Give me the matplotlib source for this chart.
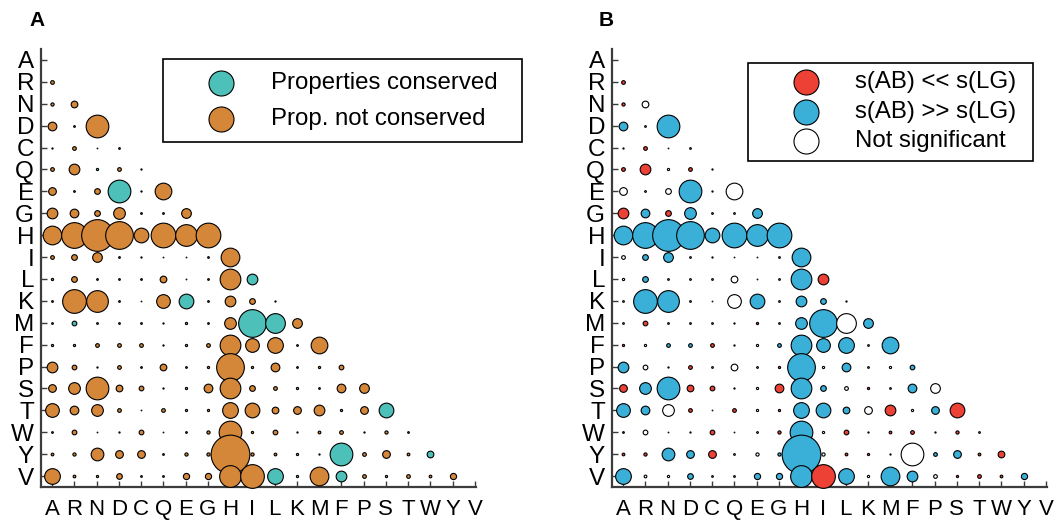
import matplotlib
matplotlib.use("Agg")
import matplotlib.pyplot as plt
from matplotlib.patches import Rectangle

plt.rcParams['font.family'] = ['Liberation Sans', 'DejaVu Sans']

amino = ["A", "R", "N", "D", "C", "Q", "E", "G", "H", "I",
         "L", "K", "M", "F", "P", "S", "T", "W", "Y", "V"]

# bubble sizes (approx. diameter), lower triangle, rows R..V
sizes = [
    [4],
    [3.5, 7],
    [9, 2, 23],
    [1.5, 4, 1, 2],
    [4, 11, 2.5, 4, 1.5],
    [8, 2, 6, 23, 1.5, 17],
    [11, 9, 6, 12, 2, 2, 10],
    [19, 26, 32, 28, 15, 25, 22, 25],
    [4, 6, 10, 2, 1.5, 1, 1, 2, 19],
    [2.5, 6, 2, 2, 2, 7, 1, 2, 21, 11],
    [2, 24, 22, 2, 1, 14, 15, 2, 11, 6, 1.5],
    [2, 5, 2, 2, 2, 1.5, 2.5, 2, 12, 28, 20, 10],
    [2.5, 2.5, 4, 4, 4, 1.5, 2.5, 4, 21, 14, 16, 2, 17],
    [11, 5, 1.5, 4, 2, 7, 2, 2.5, 28, 2.5, 9, 2, 2.5, 5],
    [8, 12, 23, 7, 5, 1.5, 2.5, 9, 21, 6, 4, 2.5, 2, 9, 10],
    [14, 9, 12, 4, 1, 4, 2.5, 2.5, 16, 15, 7, 8, 11, 2.5, 8, 15],
    [2, 5, 1, 1.5, 5, 1, 2, 3.5, 23, 2.5, 5, 1.5, 3, 4, 1.5, 3.5, 2],
    [3, 3.5, 13, 8, 8, 2, 3.5, 3.5, 39, 3.5, 3, 2.5, 1.5, 23, 4, 8, 3, 7],
    [16, 3, 2.5, 6, 2, 2, 6.5, 6.5, 22, 24, 16, 2.5, 19, 11, 4, 2.5, 4, 3, 6.5],
]

# panel A: t = properties conserved, o = not conserved
conserved = [
    "o", "oo", "ooo", "oooo", "ootoo", "oootoo", "ooooooo", "oooooooo",
    "ooooooooo", "ooooooooot", "ooooootoooo", "otoooooootto",
    "ooooooooooooo", "oooooooooooooo", "ooooooooooooooo",
    "ooooooooooooooot", "ooooooooooooootooo", "oooooooooooootooot",
    "oooooooooottotoooooo",
]

# panel B: r = s(AB) << s(LG), b = s(AB) >> s(LG), w = not significant
signif = [
    "r", "rw", "bwb", "wrww", "rrwrw", "wwwbww", "rbrbwwb", "bbbbbbbb",
    "wbbwwwwwb", "wbwwwwwwbr", "wbbwwwbwbbw", "wrwwwwrwbbwb",
    "rwbbrwwbbbbwb", "bwwrwwwrbwbwwb", "rbbrrwwrbbwrwbw",
    "bbwrwrwrbbbwrwbr", "rwwwrwwrbwrwrrwrw", "rrbbrwwbbwrrwwbbrr",
    "bwwbwwbbbrbwbbwrrrb",
]

col_A = {"t": "#4dc0b9", "o": "#d48639"}
col_B = {"r": "#ee4136", "b": "#3aafd8", "w": "#ffffff"}

W, H = 1055, 521
fig = plt.figure(figsize=(W / 100, H / 100), dpi=100)

axes_left = [41, 612]
ax_w, ax_top, ax_bot = 435, 49, 487


def draw_panel(ax, codes, cmap):
    for i, row in enumerate(sizes):
        r = i + 1
        for j, d in enumerate(row):
            code = codes[i][j]
            dpath = max(d - 0.3, 0.5)
            s = (dpath * 0.72) ** 2
            ax.scatter([j], [r], s=s, c=cmap[code], edgecolors="black",
                       linewidths=0.8, clip_on=False, zorder=3 + i * 0.01)
    ax.set_xlim(-0.5, 19.05)
    ax.set_ylim(19.5, -0.5)
    ax.set_xticks(range(len(amino)))
    ax.set_xticklabels(amino)
    ax.set_yticks(range(len(amino)))
    ax.set_yticklabels(amino)
    for sp in ["top", "right"]:
        ax.spines[sp].set_visible(False)
    for sp in ["left", "bottom"]:
        ax.spines[sp].set_color("#3c3c3c")
        ax.spines[sp].set_linewidth(1.6)
    ax.tick_params(direction="in", length=4, width=1, color="#3c3c3c",
                   labelcolor="black")
    ax.tick_params(axis="x", pad=8.5, labelsize=16)
    ax.tick_params(axis="y", pad=5, labelsize=17.5)


axA = fig.add_axes([axes_left[0] / W, (H - ax_bot) / H, ax_w / W, (ax_bot - ax_top) / H])
axB = fig.add_axes([axes_left[1] / W, (H - ax_bot) / H, ax_w / W, (ax_bot - ax_top) / H])
draw_panel(axA, conserved, col_A)
draw_panel(axB, signif, col_B)

# overlay for legends and panel letters, in pixel coordinates
ov = fig.add_axes([0, 0, 1, 1], zorder=10)
ov.set_xlim(0, W)
ov.set_ylim(H, 0)
ov.axis("off")
ov.patch.set_alpha(0)

ov.text(29, 20, "A", fontsize=15, fontweight="bold", va="center", ha="left")
ov.text(599, 20, "B", fontsize=15, fontweight="bold", va="center", ha="left")

# legend A
ov.add_patch(Rectangle((163, 59), 359, 83, facecolor="white", edgecolor="black", lw=1.2))
legA = [("Properties conserved", col_A["t"], 83), ("Prop. not conserved", col_A["o"], 119)]
for lab, c, y in legA:
    ov.scatter([221], [y], s=(25 * 0.72) ** 2, c=c, edgecolors="black", linewidths=0.8)
    ov.text(271, y, lab, fontsize=17.3, va="center", ha="left")

# legend B
ov.add_patch(Rectangle((748, 63), 285, 98, facecolor="white", edgecolor="black", lw=1.2))
legB = [("s(AB) << s(LG)", col_B["r"], 82), ("s(AB) >> s(LG)", col_B["b"], 112),
        ("Not significant", col_B["w"], 141)]
for lab, c, y in legB:
    ov.scatter([806], [y], s=(25 * 0.72) ** 2, c=c, edgecolors="black", linewidths=0.8)
    ov.text(855, y, lab, fontsize=17.3, va="center", ha="left")

fig.savefig("out.png", dpi=100)
